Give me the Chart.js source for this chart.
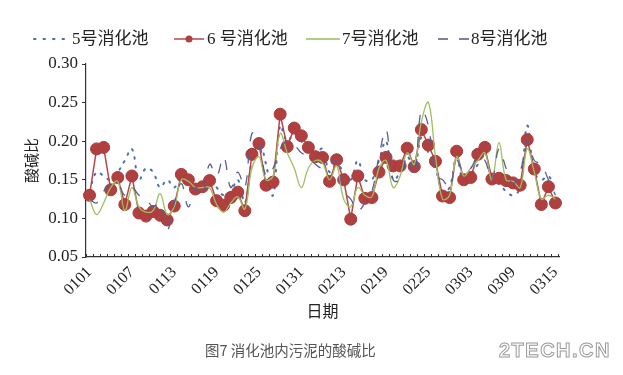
<!DOCTYPE html>
<html>
<head>
<meta charset="utf-8">
<script src="https://cdn.jsdelivr.net/npm/chart.js@4.4.1/dist/chart.umd.min.js"></script>
<style>
  body { margin: 0; background: #fff; }
  #wrap { position: relative; width: 623px; height: 375px; }
  #chart { position: absolute; left: 0; top: 0; }
  .lg { position: absolute; top: 28px; height: 22px; font: 17px 'Liberation Serif', 'Noto Sans CJK SC', serif; color: #222; line-height: 22px; white-space: nowrap; }
  .lg svg { position: absolute; top: 0; }
  #caption { position: absolute; left: 205px; top: 339px; font: 14.5px 'Noto Sans CJK SC', sans-serif; color: #555; }
  #mark { position: absolute; left: 499px; top: 339px; font: bold 20px 'Liberation Sans', Arial, sans-serif; color: #fff; -webkit-text-stroke: 1px #9a9a9a; letter-spacing: 1.5px; }
</style>
</head>
<body>
<div id="wrap">
  <canvas id="chart" width="623" height="375"></canvas>
  <div class="lg" style="left:30px"><svg width="40" height="22"><line x1="4" y1="11" x2="36" y2="11" stroke="#4a6fb0" stroke-width="2" stroke-dasharray="1.5 8" stroke-linecap="round"/></svg><span style="position:absolute;left:42px">5号消化池</span></div>
  <div class="lg" style="left:172px"><svg width="34" height="22"><line x1="2" y1="11" x2="32" y2="11" stroke="#b5474a" stroke-width="1.5"/><circle cx="17" cy="11" r="3.5" fill="#b0403f"/></svg><span style="position:absolute;left:35px">6 号消化池</span></div>
  <div class="lg" style="left:305px"><svg width="36" height="22"><line x1="1" y1="11" x2="35" y2="11" stroke="#9bbb59" stroke-width="1.5"/></svg><span style="position:absolute;left:37px">7号消化池</span></div>
  <div class="lg" style="left:437px"><svg width="34" height="22"><line x1="1" y1="11" x2="33" y2="11" stroke="#55578f" stroke-width="1.5" stroke-dasharray="10 11"/></svg><span style="position:absolute;left:34px">8号消化池</span></div>
  <div id="caption">图7 消化池内污泥的酸碱比</div>
  <div id="mark">2TECH.CN</div>
</div>
<script>
// 日期 (1月, 2月8日起, 3月)
const dates = [
  '0101','0102','0103','0104','0105','0106','0107','0108','0109','0110',
  '0111','0112','0113','0114','0115','0116','0117','0118','0119','0120',
  '0121','0122','0123','0124','0125','0126','0127','0128','0129','0130','0131',
  '0208','0209','0210','0211','0212','0213','0214','0215','0216','0217',
  '0218','0219','0220','0221','0222','0223','0224','0225','0226','0227','0228',
  '0301','0302','0303','0304','0305','0306','0307','0308','0309','0310',
  '0311','0312','0313','0314','0315'
];

// 酸碱比
const pool5 = [
  0.135, 0.160, 0.155, 0.150, 0.160, 0.175, 0.190, 0.150, 0.165, 0.160,
  0.140, 0.150, 0.140, 0.155, 0.150, 0.140, 0.145, 0.150, 0.140, 0.130,
  0.135, 0.150, 0.120, 0.175, 0.200, 0.170, 0.130, 0.220, 0.200, 0.210, 0.200,
  0.190, 0.185, 0.190, 0.160, 0.170, 0.160, 0.150, 0.175, 0.150, 0.150,
  0.175, 0.200, 0.150, 0.160, 0.180, 0.165, 0.205, 0.185, 0.165, 0.135, 0.140,
  0.180, 0.145, 0.155, 0.170, 0.185, 0.150, 0.145, 0.135, 0.130, 0.140,
  0.220, 0.160, 0.150, 0.155, 0.135
];
const pool6 = [
  0.130, 0.190, 0.192, 0.137, 0.153, 0.118, 0.155, 0.107, 0.103, 0.109,
  0.104, 0.098, 0.116, 0.157, 0.150, 0.138, 0.141, 0.149, 0.123, 0.117,
  0.127, 0.134, 0.110, 0.183, 0.197, 0.143, 0.147, 0.235, 0.193, 0.217, 0.207,
  0.192, 0.180, 0.179, 0.148, 0.176, 0.150, 0.099, 0.155, 0.126, 0.127,
  0.160, 0.179, 0.168, 0.168, 0.191, 0.167, 0.215, 0.195, 0.174, 0.129, 0.127,
  0.187, 0.150, 0.153, 0.183, 0.192, 0.151, 0.152, 0.149, 0.146, 0.143,
  0.202, 0.164, 0.118, 0.141, 0.120
];
const pool7 = [
  0.125, 0.105, 0.120, 0.140, 0.148, 0.110, 0.140, 0.115, 0.108, 0.110,
  0.132, 0.105, 0.115, 0.150, 0.148, 0.140, 0.140, 0.140, 0.118, 0.108,
  0.120, 0.128, 0.112, 0.165, 0.180, 0.150, 0.155, 0.210, 0.185, 0.165, 0.140,
  0.165, 0.175, 0.172, 0.150, 0.168, 0.125, 0.115, 0.140, 0.130, 0.128,
  0.165, 0.175, 0.140, 0.155, 0.185, 0.170, 0.225, 0.250, 0.180, 0.125, 0.130,
  0.180, 0.155, 0.165, 0.175, 0.185, 0.150, 0.198, 0.150, 0.148, 0.140,
  0.190, 0.160, 0.125, 0.130, 0.125
];
const pool8 = [
  0.125, 0.120, 0.135, 0.145, 0.145, 0.130, 0.140, 0.130, 0.125, 0.115,
  0.120, 0.085, 0.120, 0.145, 0.115, 0.140, 0.130, 0.170, 0.155, 0.180,
  0.140, 0.160, 0.140, 0.210, 0.200, 0.155, 0.165, 0.190, 0.200, 0.195, 0.185,
  0.180, 0.170, 0.165, 0.170, 0.175, 0.135, 0.125, 0.110, 0.120, 0.135,
  0.180, 0.215, 0.150, 0.150, 0.180, 0.155, 0.240, 0.220, 0.155, 0.150, 0.140,
  0.175, 0.160, 0.165, 0.180, 0.175, 0.150, 0.190, 0.165, 0.145, 0.160,
  0.200, 0.175, 0.170, 0.150, 0.130
];

const yTicks = [0.05, 0.10, 0.15, 0.20, 0.25, 0.30];

const serif = "'Liberation Serif', 'Noto Sans CJK SC', serif";

new Chart(document.getElementById('chart'), {
  type: 'line',
  data: {
    labels: dates,
    datasets: [
      { label: '5号消化池', data: pool5, borderColor: '#4a6fb0', borderWidth: 2,
        borderDash: [1.5, 7], borderCapStyle: 'round', pointRadius: 0, tension: 0.4, order: 3 },
      { label: '6 号消化池', data: pool6, borderColor: '#b5474a', borderWidth: 1.5,
        pointRadius: 6, pointBackgroundColor: '#b0403f', pointBorderColor: '#a83b3b',
        pointBorderWidth: 1, tension: 0, order: 2 },
      { label: '7号消化池', data: pool7, borderColor: '#9fbe62', borderWidth: 1.3,
        pointRadius: 0, tension: 0.4, order: 1 },
      { label: '8号消化池', data: pool8, borderColor: '#5a5c94', borderWidth: 1.3,
        borderDash: [10, 12], pointRadius: 0, tension: 0.4, order: 0 }
    ]
  },
  options: {
    responsive: false,
    animation: false,
    layout: { padding: { left: 24, right: 64, top: 64, bottom: 53 } },
    plugins: { legend: { display: false }, tooltip: { enabled: false } },
    scales: {
      x: {
        type: 'category',
        offset: true,
        afterFit: s => { s.height = 65; },
        border: { color: '#333', width: 1.2 },
        grid: { display: true, offset: true, drawOnChartArea: false, tickLength: -3, color: '#333' },
        ticks: {
          autoSkip: false, minRotation: 45, maxRotation: 45, padding: 9,
          color: '#222', font: { family: serif, size: 16 },
          callback: (v, i) => (i % 6 === 0 ? dates[i] : '')
        },
        title: { display: true, text: '日期', color: '#222', padding: 0,
          font: { family: serif, size: 16 } }
      },
      y: {
        min: 0.05, max: 0.30,
        afterFit: s => { s.width = 62; },
        afterBuildTicks: s => { s.ticks = yTicks.map(v => ({ value: v })); },
        border: { color: '#333', width: 1.2 },
        grid: { drawOnChartArea: false, tickLength: 4, color: '#333' },
        ticks: { padding: 4, color: '#222', font: { family: serif, size: 17 },
          callback: v => v.toFixed(2) },
        title: { display: true, text: '酸碱比', color: '#222', padding: 0,
          font: { family: serif, size: 15 } }
      }
    }
  }
});
</script>
</body>
</html>
